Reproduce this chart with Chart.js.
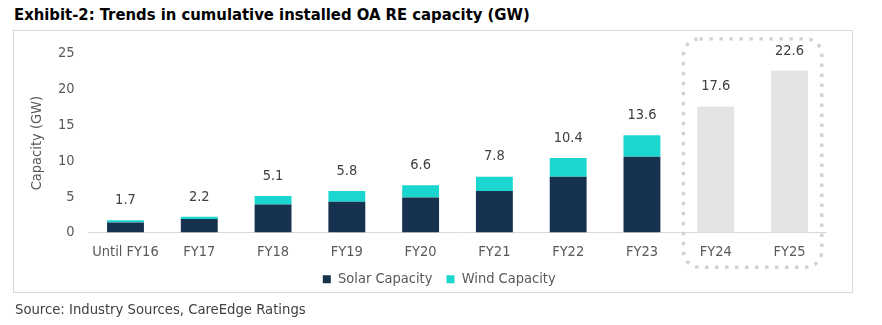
<!DOCTYPE html>
<html>
<head>
<meta charset="utf-8">
<title>Trends in cumulative installed OA RE capacity</title>
<script src="https://cdn.jsdelivr.net/npm/chart.js@4.4.1/dist/chart.umd.min.js"></script>
<style>
  html, body { margin: 0; padding: 0; background: #fff; width: 882px; height: 325px; overflow: hidden; }
  body { position: relative; font-family: 'DejaVu Sans Condensed', 'DejaVu Sans', sans-serif; }
  #title { position: absolute; left: 14px; top: 5px; font-size: 16.5px; line-height: 20px; font-weight: bold; color: #000; white-space: nowrap; }
  #frame { position: absolute; left: 13px; top: 30px; width: 838px; height: 261px; border: 1px solid #d9d9d9; }
  #wrap { position: absolute; left: 14px; top: 31px; width: 838px; height: 271px; }
  #source { position: absolute; left: 15px; top: 300px; font-size: 14.7px; line-height: 18px; color: #404040; white-space: nowrap; }
</style>
</head>
<body>
<div id="title">Exhibit-2: Trends in cumulative installed OA RE capacity (GW)</div>
<div id="frame"></div>
<div id="wrap"><canvas id="chart" width="838" height="271"></canvas></div>
<div id="source">Source: Industry Sources, CareEdge Ratings</div>
<script>
// Cumulative open-access renewable capacity, GW
const categories = ['Until FY16', 'FY17', 'FY18', 'FY19', 'FY20', 'FY21', 'FY22', 'FY23', 'FY24', 'FY25'];
const solarCapacity = [1.4, 1.9, 3.9, 4.3, 4.9, 5.8, 7.8, 10.6, null, null];
const windCapacity = [0.3, 0.3, 1.2, 1.5, 1.7, 2.0, 2.6, 3.0, null, null];
const projectedCapacity = [null, null, null, null, null, null, null, null, 17.6, 22.6];
const yTicks = [0, 5, 10, 15, 20, 25];
const projectedCategories = ['FY24', 'FY25'];

const FONT = "'DejaVu Sans Condensed', 'DejaVu Sans', sans-serif";
Chart.defaults.font.family = FONT;
Chart.defaults.font.size = 14.5;
Chart.defaults.color = '#595959';

// Stack totals printed above each column
const totalLabels = {
  id: 'totalLabels',
  afterDatasetsDraw(chart) {
    const { ctx, scales: { x, y } } = chart;
    ctx.save();
    ctx.font = '14.5px ' + FONT;
    ctx.fillStyle = '#404040';
    ctx.textAlign = 'center';
    ctx.textBaseline = 'middle';
    categories.forEach((cat, i) => {
      const total = chart.data.datasets.reduce((s, ds) => s + (ds.data[i] ?? 0), 0);
      ctx.fillText(total.toFixed(1), x.getPixelForValue(i), y.getPixelForValue(total) - 20);
    });
    ctx.restore();
  }
};

// Dotted rounded frame around the projected years
const projectionFrame = {
  id: 'projectionFrame',
  beforeDatasetsDraw(chart) {
    const { ctx, chartArea, scales: { x } } = chart;
    const first = x.getPixelForValue(categories.indexOf(projectedCategories[0]));
    const last = x.getPixelForValue(categories.indexOf(projectedCategories[projectedCategories.length - 1]));
    const left = first - 32.3, right = last + 32.3;
    const top = chartArea.top - 14.8, bottom = chartArea.bottom + 34.7;
    ctx.save();
    ctx.strokeStyle = '#d2d2d2';
    ctx.lineWidth = 3.4;
    ctx.setLineDash([3.4, 6.6]);
    ctx.beginPath();
    ctx.roundRect(left, top, right - left, bottom - top, 16);
    ctx.stroke();
    ctx.restore();
  }
};

// Nudge the legend so it sits under the bars and close to the axis labels
const legendShift = {
  id: 'legendShift',
  afterLayout(chart) {
    const lg = chart.legend;
    if (!lg) return;
    lg.left += 19; lg.right += 19;
    lg.top -= 5.5; lg.bottom -= 5.5;
  }
};

new Chart(document.getElementById('chart'), {
  type: 'bar',
  data: {
    labels: categories,
    datasets: [
      { label: 'Solar Capacity', data: solarCapacity, backgroundColor: '#17324f' },
      { label: 'Wind Capacity', data: windCapacity, backgroundColor: '#1bd6cf' },
      { label: 'Projected', data: projectedCapacity, backgroundColor: '#e4e4e4' }
    ]
  },
  options: {
    responsive: false,
    animation: false,
    events: [],
    categoryPercentage: 1,
    barPercentage: 0.5,
    layout: { padding: { top: 20.5, right: 25.6, left: 0, bottom: 0 } },
    plugins: {
      tooltip: { enabled: false },
      legend: {
        position: 'bottom',
        align: 'center',
        labels: {
          boxWidth: 8,
          boxHeight: 8,
          padding: 14,
          color: '#595959',
          font: { size: 14.5 },
          filter: item => item.text !== 'Projected'
        }
      }
    },
    scales: {
      x: {
        stacked: true,
        grid: { display: false, drawTicks: false },
        border: { display: true, color: '#d9d9d9', width: 1 },
        ticks: { padding: 11, color: '#595959', maxRotation: 0, autoSkip: false },
        afterFit(scale) { scale.height = 31; }
      },
      y: {
        stacked: true,
        min: yTicks[0],
        max: yTicks[yTicks.length - 1],
        grid: { display: false, drawTicks: false },
        border: { display: false },
        ticks: { stepSize: yTicks[1] - yTicks[0], padding: 14, color: '#595959' },
        title: {
          display: true,
          text: 'Capacity (GW)',
          color: '#595959',
          font: { size: 14.5 },
          padding: { top: 15, bottom: 0 }
        },
        afterFit(scale) { scale.width = 74.6; }
      }
    }
  },
  plugins: [projectionFrame, totalLabels, legendShift]
});
</script>
</body>
</html>
